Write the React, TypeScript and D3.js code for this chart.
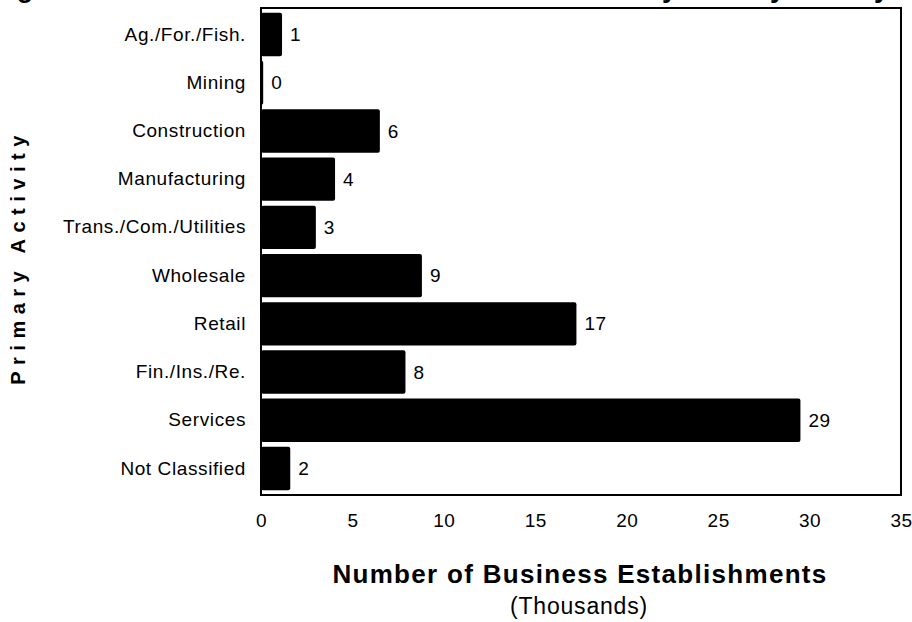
import React from 'react';
import * as d3 from 'd3';

const categories = [
  'Ag./For./Fish.',
  'Mining',
  'Construction',
  'Manufacturing',
  'Trans./Com./Utilities',
  'Wholesale',
  'Retail',
  'Fin./Ins./Re.',
  'Services',
  'Not Classified',
];
const establishments = [1.15, 0.12, 6.5, 4.05, 3.0, 8.8, 17.25, 7.9, 29.5, 1.6];
const valueLabels = ['1', '0', '6', '4', '3', '9', '17', '8', '29', '2'];
const xTicks = [0, 5, 10, 15, 20, 25, 30, 35];

const titleText = 'Figure 3. The Number of Business Establishments by Primary Activity';
const xTitle = 'Number of Business Establishments';
const xSubtitle = '(Thousands)';
const yTitle = 'Primary Activity';

export default function App() {
  const ref = React.useRef<SVGSVGElement>(null);

  React.useEffect(() => {
    const W = 912;
    const H = 622;
    const margin = { top: 8, right: 11, bottom: 127, left: 261 };
    const width = W - margin.left - margin.right;
    const height = H - margin.top - margin.bottom;
    const font = 'Arial, "Liberation Sans", Helvetica, sans-serif';

    const root = d3.select(ref.current);
    root.selectAll('*').remove();

    // title is cut off by the top edge, only descenders show
    root.append('text')
      .attr('x', 889)
      .attr('y', -3)
      .attr('text-anchor', 'end')
      .attr('font-family', font)
      .attr('font-weight', 'bold')
      .attr('font-size', 27)
      .text(titleText);

    const svg = root.append('g')
      .attr('transform', `translate(${margin.left},${margin.top})`);

    const x = d3.scaleLinear().domain([0, 35]).range([0, width]);
    const y = d3.scaleBand().domain(categories).range([0, height]).padding(0.1);

    // bars
    svg.selectAll('rect.bar')
      .data(categories)
      .enter()
      .append('rect')
      .attr('class', 'bar')
      .attr('x', 0)
      .attr('y', d => y(d) || 0)
      .attr('width', (d, i) => x(establishments[i]))
      .attr('height', y.bandwidth())
      .attr('rx', 2)
      .attr('fill', '#000');

    // value labels
    svg.selectAll('text.val')
      .data(categories)
      .enter()
      .append('text')
      .attr('class', 'val')
      .attr('x', (d, i) => x(establishments[i]) + 8)
      .attr('y', d => (y(d) || 0) + y.bandwidth() / 2)
      .attr('dy', '0.35em')
      .attr('font-family', font)
      .attr('font-size', 19)
      .attr('letter-spacing', 0.5)
      .text((d, i) => valueLabels[i]);

    // frame
    svg.append('rect')
      .attr('x', 0)
      .attr('y', 0)
      .attr('width', width)
      .attr('height', height)
      .attr('fill', 'none')
      .attr('stroke', '#000')
      .attr('stroke-width', 2);

    // x axis
    const xAxis = svg.append('g')
      .attr('transform', `translate(0,${height})`)
      .call(d3.axisBottom(x).tickValues(xTicks).tickSize(0).tickPadding(19));
    xAxis.select('.domain').remove();
    xAxis.selectAll('text')
      .attr('font-family', font)
      .attr('font-size', 19)
      .attr('letter-spacing', 0.5)
      .attr('fill', '#000');

    // y axis
    const yAxis = svg.append('g')
      .call(d3.axisLeft(y).tickSize(0).tickPadding(15));
    yAxis.select('.domain').remove();
    yAxis.selectAll('text')
      .attr('font-family', font)
      .attr('font-size', 19)
      .attr('letter-spacing', 0.6)
      .attr('fill', '#000');

    // axis titles
    root.append('text')
      .attr('x', 580)
      .attr('y', 583)
      .attr('text-anchor', 'middle')
      .attr('font-family', font)
      .attr('font-weight', 'bold')
      .attr('font-size', 26)
      .attr('letter-spacing', 1.3)
      .text(xTitle);

    root.append('text')
      .attr('x', 579)
      .attr('y', 614)
      .attr('text-anchor', 'middle')
      .attr('font-family', font)
      .attr('font-size', 23)
      .attr('letter-spacing', 0.8)
      .text(xSubtitle);

    root.append('text')
      .attr('transform', 'translate(25,257) rotate(-90)')
      .attr('text-anchor', 'middle')
      .attr('font-family', font)
      .attr('font-weight', 'bold')
      .attr('font-size', 20)
      .attr('letter-spacing', 6.5)
      .text(yTitle);
  }, []);

  return (
    <svg
      ref={ref}
      width={912}
      height={622}
      style={{ position: 'absolute', left: 0, top: 0, background: '#fff' }}
    />
  );
}
